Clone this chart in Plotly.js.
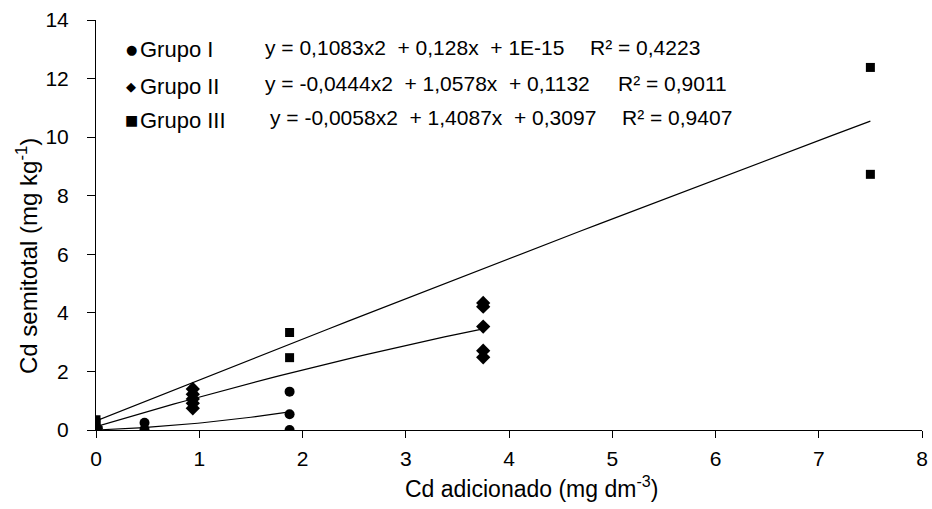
<!DOCTYPE html>
<html>
<head>
<meta charset="utf-8">
<script src="https://cdn.plot.ly/plotly-3.0.1.min.js"></script>
<style>html,body{margin:0;padding:0;background:#fff;}#chart{width:932px;height:509px;}</style>
</head>
<body>
<div id="chart"></div>
<script>
// Data
const g1x = [0, 0, 0.47, 0.47, 1.875, 1.875, 1.875];
const g1y = [0, 0.02, 0.25, 0.02, 1.31, 0.54, 0.0];
const g2x = [0, 0, 0.9375, 0.9375, 0.9375, 0.9375, 0.9375, 3.75, 3.75, 3.75, 3.75, 3.75];
const g2y = [0.1, 0.05, 1.40, 1.22, 1.06, 0.91, 0.74, 4.34, 4.21, 3.53, 2.71, 2.48];
const g3x = [0, 0, 1.875, 1.875, 7.5, 7.5];
const g3y = [0.35, 0.25, 3.33, 2.47, 12.38, 8.73];

// Trendline coefficients shown on the chart [a, b, c] for y = a x^2 + b x + c
const fit1 = [0.1083, 0.128, 1e-15];
const fit2 = [-0.0444, 1.0578, 0.1132];
const fit3 = [-0.0058, 1.4087, 0.3097];
const fitRange = [1.875, 3.75, 7.5];

const groupNames = ["Grupo I", "Grupo II", "Grupo III"];
const equations = ["y = 0,1083x2\u00a0 + 0,128x\u00a0 + 1E-15", "y = -0,0444x2\u00a0 + 1,0578x\u00a0 + 0,1132", "y = -0,0058x2\u00a0 + 1,4087x\u00a0 + 0,3097"];
const r2 = ["R² = 0,4223", "R² = 0,9011", "R² = 0,9407"];
const legendSymbols = ["●", "◆", "■"];
const xTitle = 'Cd adicionado (mg dm<sup>-3</sup>)';
const yTitle = 'Cd semitotal (mg kg<sup>-1</sup>)';

function curve(c, xmax) {
  const xs = [], ys = [];
  const n = 40;
  for (let i = 0; i <= n; i++) {
    const x = xmax * i / n;
    xs.push(x);
    ys.push(c[0] * x * x + c[1] * x + c[2]);
  }
  return {xs, ys};
}

const traces = [];
[fit1, fit2, fit3].forEach((c, i) => {
  const cv = curve(c, fitRange[i]);
  traces.push({x: cv.xs, y: cv.ys, mode: 'lines', line: {color: '#000', width: 1.2}, showlegend: false, hoverinfo: 'skip'});
});
traces.push({x: g1x, y: g1y, mode: 'markers', marker: {symbol: 'circle', size: 10, color: '#000'}, showlegend: false});
traces.push({x: g2x, y: g2y, mode: 'markers', marker: {symbol: 'diamond', size: 11, color: '#000'}, showlegend: false});
traces.push({x: g3x, y: g3y, mode: 'markers', marker: {symbol: 'square', size: 9, color: '#000'}, showlegend: false});

const L = 96, T = 20, W = 826, H = 410;
function px(x) { return (x - L) / W; }
function py(y) { return (T + H - y) / H; }

const nameY = [50, 86, 120];
const eqY = [48, 83, 117];
const eqX = [265, 265, 270];
const r2X = [590, 618, 622];
const symSize = [13, 13, 14];
const FF = 'Liberation Sans, Arial, sans-serif';
const annotations = [];
for (let i = 0; i < 3; i++) {
  annotations.push({xref: 'paper', yref: 'paper', x: px(131), y: py(nameY[i]), xanchor: 'center', yanchor: 'middle', text: legendSymbols[i], showarrow: false, font: {size: symSize[i], color: '#000', family: 'DejaVu Sans'}});
  annotations.push({xref: 'paper', yref: 'paper', x: px(138), y: py(nameY[i]), xanchor: 'left', yanchor: 'middle', text: groupNames[i], showarrow: false, font: {size: 22, color: '#000', family: FF}});
  annotations.push({xref: 'paper', yref: 'paper', x: px(eqX[i] - 2), y: py(eqY[i]), xanchor: 'left', yanchor: 'middle', text: equations[i], showarrow: false, font: {size: 21, color: '#000', family: FF}});
  annotations.push({xref: 'paper', yref: 'paper', x: px(r2X[i] - 2), y: py(eqY[i]), xanchor: 'left', yanchor: 'middle', text: r2[i], showarrow: false, font: {size: 21, color: '#000', family: FF}});
}
// axis titles (placed like the reference, offset from plot-area centre)
annotations.push({xref: 'paper', yref: 'paper', x: px(403), y: py(487), xanchor: 'left', yanchor: 'middle', text: xTitle, showarrow: false, font: {size: 23, color: '#000', family: FF}});
annotations.push({xref: 'paper', yref: 'paper', x: px(27), y: py(256), xanchor: 'center', yanchor: 'middle', textangle: -90, text: yTitle, showarrow: false, font: {size: 24, color: '#000', family: FF}});

const layout = {
  width: 932, height: 509,
  margin: {l: 96, r: 10, t: 20, b: 79},
  paper_bgcolor: '#fff', plot_bgcolor: '#fff',
  font: {family: FF, color: '#000', size: 21},
  showlegend: false,
  xaxis: {
    range: [0, 8], dtick: 1, tick0: 0, showgrid: false, zeroline: false,
    showline: true, linecolor: '#000', linewidth: 1,
    ticks: 'outside', ticklen: 7, tickcolor: '#000',
    tickfont: {size: 21}, ticklabelstandoff: 3
  },
  yaxis: {
    range: [0, 14], dtick: 2, tick0: 0, showgrid: false, zeroline: false,
    showline: true, linecolor: '#000', linewidth: 1,
    ticks: 'outside', ticklen: 8, tickcolor: '#000',
    tickfont: {size: 21}, ticklabelstandoff: 14
  },
  annotations: annotations
};

Plotly.newPlot('chart', traces, layout, {displayModeBar: false, staticPlot: true});
</script>
</body>
</html>
